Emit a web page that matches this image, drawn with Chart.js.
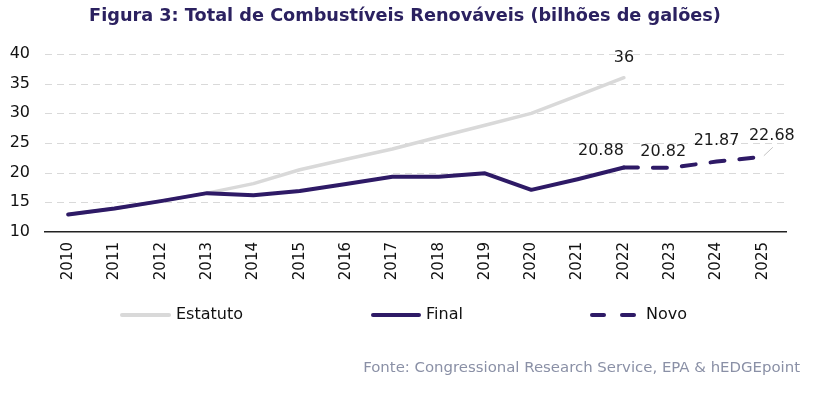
<!DOCTYPE html>
<html><head><meta charset="utf-8">
<script src="https://cdn.jsdelivr.net/npm/chart.js@4/dist/chart.umd.min.js"></script>
<style>html,body{margin:0;padding:0;background:#fff}#wrap{width:823px;height:393px}</style>
</head><body><div id="wrap"><canvas id="c"></canvas></div>
<script>
const years = ['2010','2011','2012','2013','2014','2015','2016','2017','2018','2019','2020','2021','2022','2023','2024','2025'];
const estatuto = [12.95, 13.95, 15.2, 16.55, 18.15, 20.5, 22.25, 24.0, 26.0, 28.0, 30.0, 33.0, 36.0, null, null, null];
const finalVals = [12.95, 13.95, 15.2, 16.55, 16.2, 16.9, 18.1, 19.3, 19.3, 19.9, 17.1, 18.9, 20.88, null, null, null];
const novo = [null, null, null, null, null, null, null, null, null, null, null, null, 20.88, 20.82, 21.87, 22.68];
const yTicks = [10, 15, 20, 25, 30, 35, 40];
const titleText = 'Figura 3: Total de Combustíveis Renováveis (bilhões de galões)';
const sourceText = 'Fonte: Congressional Research Service, EPA & hEDGEpoint';

const PURPLE = '#2e1a66';
const TITLE_C = '#2b2160';
const GREY = '#d9d9d9';
const FONT = '"DejaVu Sans", sans-serif';

function fitFont(ctx, text, weight, target, base) {
  ctx.font = weight + ' ' + base + 'px ' + FONT;
  const w = ctx.measureText(text).width;
  return weight + ' ' + (base * target / w).toFixed(2) + 'px ' + FONT;
}

const gridPlugin = {
  id: 'dashGrid',
  beforeDatasetsDraw(chart) {
    const ctx = chart.ctx, y = chart.scales.y, a = chart.chartArea;
    ctx.save();
    ctx.strokeStyle = GREY; ctx.lineWidth = 1; ctx.setLineDash([7, 5]);
    yTicks.forEach(v => {
      if (v === 10) return;
      const py = Math.round(y.getPixelForValue(v)) + 0.5;
      ctx.beginPath(); ctx.moveTo(a.left, py); ctx.lineTo(a.right, py); ctx.stroke();
    });
    ctx.restore();
  }
};

const extras = {
  id: 'extras',
  afterDraw(chart) {
    const ctx = chart.ctx;
    const x = chart.scales.x, y = chart.scales.y;
    ctx.save();
    // title
    ctx.fillStyle = TITLE_C;
    ctx.font = fitFont(ctx, titleText, 'bold', 632, 16);
    ctx.textAlign = 'center'; ctx.textBaseline = 'middle';
    ctx.fillText(titleText, 405, 16);
    // data labels
    ctx.fillStyle = '#1a1a1a';
    ctx.font = '16px ' + FONT;
    ctx.textBaseline = 'alphabetic';
    ctx.fillText(String(estatuto[12]), x.getPixelForValue(12), y.getPixelForValue(estatuto[12]) - 16);
    const lab = (i, v, dx, dy) => ctx.fillText(v.toFixed(2), x.getPixelForValue(i) + dx, y.getPixelForValue(v) + dy);
    lab(12, finalVals[12], -23, -12);
    lab(13, novo[13], -7, -12);
    lab(14, novo[14], 0, -17);
    // leader line for 2025
    const px = x.getPixelForValue(15), py = y.getPixelForValue(novo[15]);
    ctx.strokeStyle = '#c4c4c4'; ctx.lineWidth = 1;
    ctx.beginPath(); ctx.moveTo(px + 1, py - 1); ctx.lineTo(px + 10, py - 9.5); ctx.stroke();
    lab(15, novo[15], 9, -17);
    // legend
    const ly = 315;
    ctx.lineCap = 'round';
    ctx.lineWidth = 4;
    ctx.strokeStyle = GREY;
    ctx.beginPath(); ctx.moveTo(122, ly); ctx.lineTo(169, ly); ctx.stroke();
    ctx.strokeStyle = PURPLE;
    ctx.beginPath(); ctx.moveTo(373, ly); ctx.lineTo(419, ly); ctx.stroke();
    ctx.beginPath(); ctx.moveTo(592, ly); ctx.lineTo(604, ly); ctx.stroke();
    ctx.beginPath(); ctx.moveTo(622, ly); ctx.lineTo(634, ly); ctx.stroke();
    ctx.fillStyle = '#111';
    ctx.font = '16px ' + FONT;
    ctx.textAlign = 'left'; ctx.textBaseline = 'middle';
    ctx.fillText('Estatuto', 176, ly);
    ctx.fillText('Final', 426, ly);
    ctx.fillText('Novo', 646, ly);
    // source
    ctx.fillStyle = '#8a90a6';
    ctx.font = fitFont(ctx, sourceText, 'normal', 437, 14);
    ctx.textAlign = 'right';
    ctx.fillText(sourceText, 800, 368);
    ctx.restore();
  }
};

new Chart(document.getElementById('c'), {
  type: 'line',
  data: {
    labels: years,
    datasets: [
      { label: 'Estatuto', data: estatuto, borderColor: GREY, borderWidth: 3.5, pointRadius: 0, tension: 0, order: 3, borderCapStyle: 'round', borderJoinStyle: 'round' },
      { label: 'Final', data: finalVals, borderColor: PURPLE, borderWidth: 4, pointRadius: 0, tension: 0, order: 1, borderCapStyle: 'round', borderJoinStyle: 'round' },
      { label: 'Novo', data: novo, borderColor: PURPLE, borderWidth: 4, borderDash: [14, 15], pointRadius: 0, tension: 0, order: 2, borderCapStyle: 'round' }
    ]
  },
  options: {
    responsive: true, maintainAspectRatio: false, animation: false,
    layout: { padding: { top: 54, left: 0, right: 37, bottom: 101 } },
    plugins: { legend: { display: false }, tooltip: { enabled: false }, title: { display: false } },
    scales: {
      x: {
        offset: true,
        afterFit: (s) => { s.height = 60; },
        grid: { display: false, drawTicks: false },
        border: { display: true, color: '#222', width: 1.5 },
        ticks: { color: '#111', font: { family: FONT, size: 15 }, maxRotation: 90, minRotation: 90, padding: 10, autoSkip: false }
      },
      y: {
        min: 10, max: 40,
        afterFit: (s) => { s.width = 45; },
        afterBuildTicks: (s) => { s.ticks = yTicks.map(v => ({ value: v })); },
        grid: { display: false, drawTicks: false },
        border: { display: false },
        ticks: { color: '#111', font: { family: FONT, size: 16 }, padding: 15 }
      }
    }
  },
  plugins: [gridPlugin, extras]
});
</script></body></html>
